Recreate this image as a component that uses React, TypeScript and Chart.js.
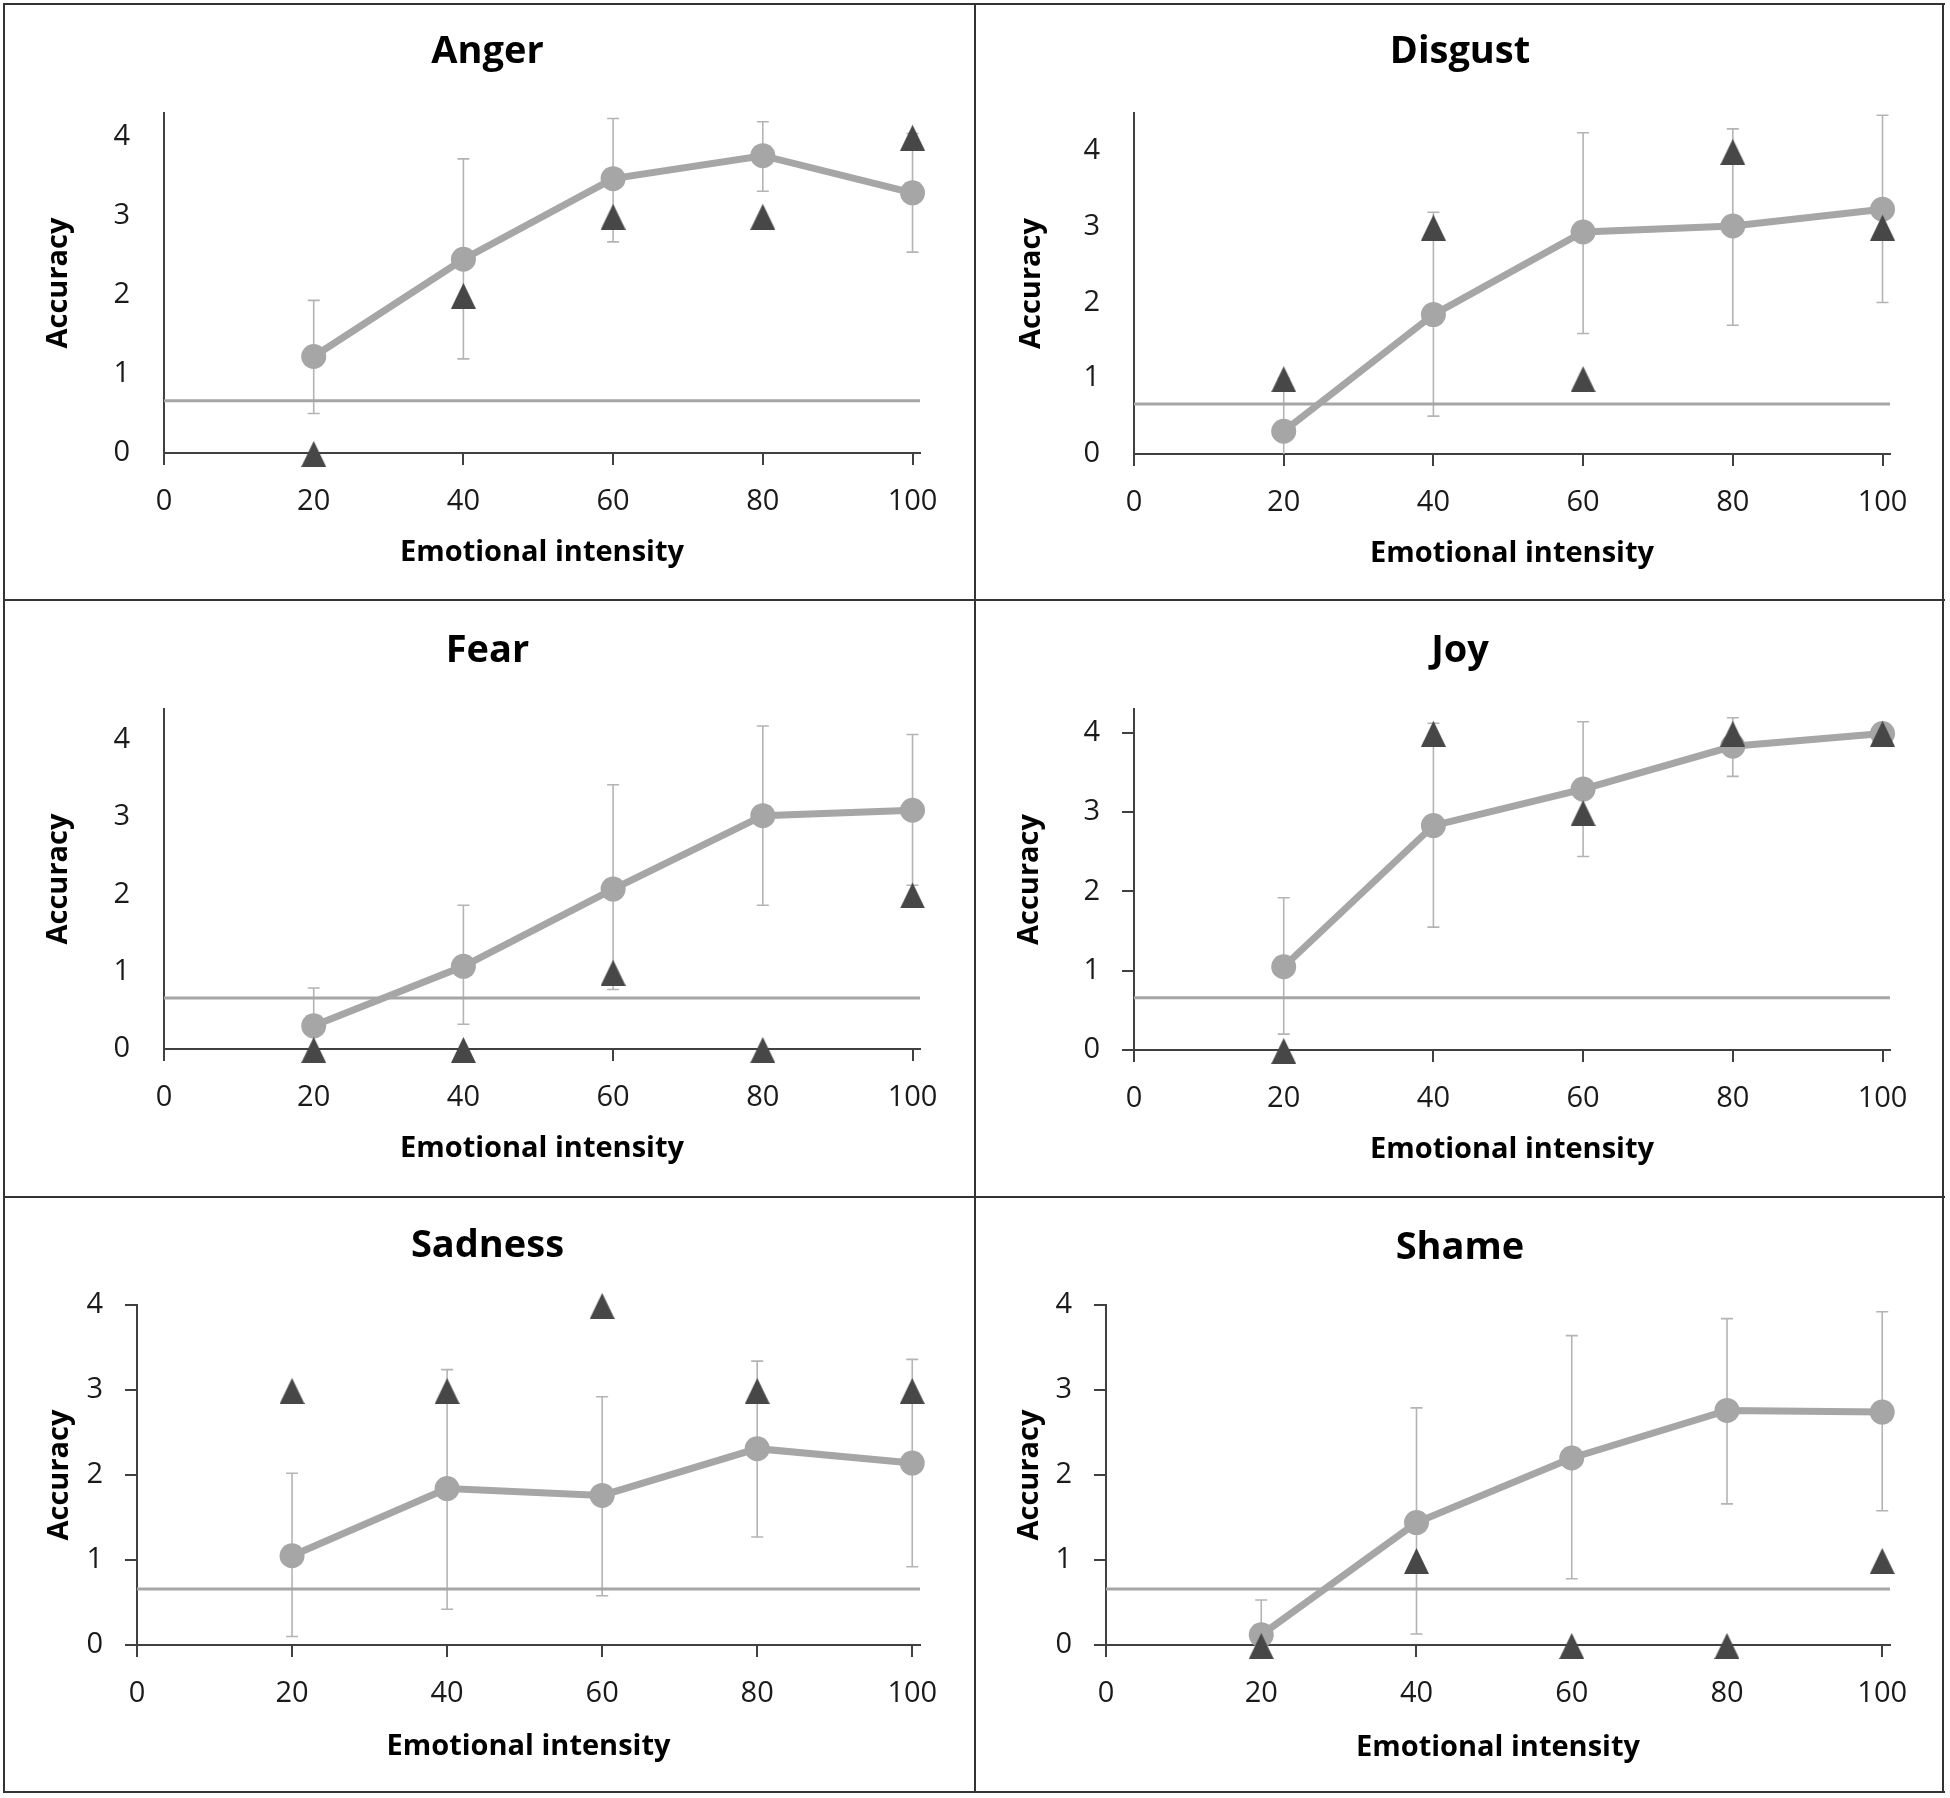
import React, { useEffect, useRef } from "react";
import { Chart, registerables } from "chart.js";

Chart.register(...registerables);

// ---------- data ----------
const intensities = [20, 40, 60, 80, 100];
const xTickValues = [0, 20, 40, 60, 80, 100];
const yTickValues = [0, 1, 2, 3, 4];
const chanceLevel = 0.66;
const xAxisTitle = "Emotional intensity";
const yAxisTitle = "Accuracy";

const angerMean = [1.22, 2.45, 3.47, 3.76, 3.29];
const angerHigh = [1.93, 3.72, 4.23, 4.19, 4.04];
const angerLow = [0.5, 1.19, 2.67, 3.31, 2.54];
const angerTri = [0, 2, 3, 3, 4];

const disgustMean = [0.3, 1.84, 2.93, 3.01, 3.23];
const disgustHigh = [1.0, 3.19, 4.24, 4.29, 4.47];
const disgustLow = [-0.4, 0.5, 1.59, 1.7, 2.0];
const disgustTri = [1, 3, 1, 4, 3];

const fearMean = [0.3, 1.07, 2.07, 3.02, 3.09];
const fearHigh = [0.79, 1.86, 3.42, 4.18, 4.07];
const fearLow = [-0.19, 0.32, 0.77, 1.86, 2.12];
const fearTri = [0, 0, 1, 0, 2];

const joyMean = [1.05, 2.83, 3.29, 3.83, 3.99];
const joyHigh = [1.92, 4.12, 4.14, 4.19, 3.99];
const joyLow = [0.2, 1.55, 2.44, 3.45, 3.99];
const joyTri = [0, 4, 3, 4, 4];

const sadnessMean = [1.05, 1.84, 1.76, 2.31, 2.14];
const sadnessHigh = [2.02, 3.24, 2.92, 3.34, 3.36];
const sadnessLow = [0.1, 0.42, 0.58, 1.27, 0.92];
const sadnessTri = [3, 3, 4, 3, 3];

const shameMean = [0.12, 1.44, 2.2, 2.76, 2.74];
const shameHigh = [0.53, 2.79, 3.64, 3.84, 3.92];
const shameLow = [-0.3, 0.13, 0.78, 1.66, 1.58];
const shameTri = [0, 1, 0, 0, 1];

const panelTitles = ["Anger", "Disgust", "Fear", "Joy", "Sadness", "Shame"];
const panelMeans = [angerMean, disgustMean, fearMean, joyMean, sadnessMean, shameMean];
const panelHighs = [angerHigh, disgustHigh, fearHigh, joyHigh, sadnessHigh, shameHigh];
const panelLows = [angerLow, disgustLow, fearLow, joyLow, sadnessLow, shameLow];
const panelTris = [angerTri, disgustTri, fearTri, joyTri, sadnessTri, shameTri];
const panelYMax = [4.3, 4.5, 4.4, 4.3, 4, 4];

// ---------- layout (positions / styles) ----------
type Lay = {
  x: number; y: number; w: number; h: number;
  left: number; right: number; top: number; bottom: number;
  titleY: number; xTitleY: number; yTitleX: number; yTickMarks: boolean;
};
const layouts: Lay[] = [
  { x: 0, y: 0, w: 975, h: 600, left: 164, right: 920, top: 113, bottom: 453, titleY: 52, xTitleY: 553, yTitleX: 59, yTickMarks: false },
  { x: 975, y: 0, w: 970, h: 600, left: 159, right: 915, top: 113, bottom: 454, titleY: 52, xTitleY: 554, yTitleX: 57, yTickMarks: false },
  { x: 0, y: 600, w: 975, h: 597, left: 164, right: 920, top: 109, bottom: 449, titleY: 51, xTitleY: 549, yTitleX: 59, yTickMarks: false },
  { x: 975, y: 600, w: 970, h: 597, left: 159, right: 915, top: 109, bottom: 450, titleY: 51, xTitleY: 550, yTitleX: 55, yTickMarks: true },
  { x: 0, y: 1197, w: 975, h: 596, left: 137, right: 920, top: 108, bottom: 448, titleY: 49, xTitleY: 550, yTitleX: 60, yTickMarks: true },
  { x: 975, y: 1197, w: 970, h: 596, left: 131, right: 915, top: 108, bottom: 448, titleY: 51, xTitleY: 551, yTitleX: 55, yTickMarks: true },
];

const FONT = "'Open Sans', 'Noto Sans', sans-serif";
const AXIS_COLOR = "#404040";
const LINE_GRAY = "#a6a6a6";
const ERR_GRAY = "#b4b4b4";
const TRI_COLOR = "#474747";

function makeTriangle(): HTMLCanvasElement {
  const c = document.createElement("canvas");
  c.width = 25;
  c.height = 28;
  const g = c.getContext("2d")!;
  g.fillStyle = TRI_COLOR;
  g.beginPath();
  g.moveTo(12.5, 2);
  g.lineTo(25, 28);
  g.lineTo(0, 28);
  g.closePath();
  g.fill();
  return c;
}

function Panel({ idx }: { idx: number }) {
  const ref = useRef<HTMLCanvasElement>(null);
  const lay = layouts[idx];
  useEffect(() => {
    const canvas = ref.current!;
    const title = panelTitles[idx];
    const mean = panelMeans[idx];
    const high = panelHighs[idx];
    const low = panelLows[idx];
    const tri = panelTris[idx];
    const W = lay.w;
    const H = lay.h;

    const errPlugin = {
      id: "errbars" + idx,
      beforeDatasetsDraw(chart: any) {
        const { ctx, chartArea, scales } = chart;
        const xs = scales.x;
        const ys = scales.y;
        ctx.save();
        ctx.beginPath();
        ctx.rect(chartArea.left, chartArea.top, chartArea.right - chartArea.left, chartArea.bottom - chartArea.top);
        ctx.clip();
        ctx.strokeStyle = ERR_GRAY;
        ctx.lineWidth = 1.6;
        intensities.forEach((v, i) => {
          const px = xs.getPixelForValue(v);
          const yl = ys.getPixelForValue(low[i]);
          const yh = ys.getPixelForValue(high[i]);
          ctx.beginPath();
          ctx.moveTo(px, yl);
          ctx.lineTo(px, yh);
          ctx.moveTo(px - 6, yh);
          ctx.lineTo(px + 6, yh);
          ctx.moveTo(px - 6, yl);
          ctx.lineTo(px + 6, yl);
          ctx.stroke();
        });
        ctx.restore();
      },
    };

    const titlePlugin = {
      id: "paneltitle" + idx,
      afterDraw(chart: any) {
        const ctx = chart.ctx;
        ctx.save();
        ctx.fillStyle = "#000";
        ctx.font = `bold 38px ${FONT}`;
        ctx.textAlign = "center";
        ctx.textBaseline = "middle";
        ctx.fillText(title, W / 2, lay.titleY);
        ctx.restore();
      },
    };

    const chart = new Chart(canvas, {
      type: "scatter",
      data: {
        datasets: [
          {
            data: intensities.map((v, i) => ({ x: v, y: tri[i] })),
            pointStyle: makeTriangle() as any,
            pointRadius: 12,
            showLine: false,
            order: 0,
            clip: false as any,
          },
          {
            data: intensities.map((v, i) => ({ x: v, y: mean[i] })),
            showLine: true,
            borderColor: LINE_GRAY,
            borderWidth: 7,
            pointRadius: 12.5,
            pointStyle: "circle",
            pointBackgroundColor: LINE_GRAY,
            pointBorderColor: LINE_GRAY,
            pointBorderWidth: 0,
            order: 1,
            clip: false as any,
          },
          {
            data: [
              { x: 0, y: chanceLevel },
              { x: 101, y: chanceLevel },
            ],
            showLine: true,
            borderColor: LINE_GRAY,
            borderWidth: 3,
            pointRadius: 0,
            order: 2,
          },
        ],
      },
      options: {
        animation: false,
        responsive: false,
        devicePixelRatio: 1,
        events: [],
        layout: { padding: { left: 0, right: W - lay.right, top: lay.top, bottom: 0 } },
        plugins: {
          legend: { display: false },
          tooltip: { enabled: false },
          title: { display: false },
        },
        scales: {
          x: {
            type: "linear",
            position: "bottom",
            min: 0,
            max: 101,
            afterBuildTicks: (s: any) => {
              s.ticks = xTickValues.map((v) => ({ value: v }));
            },
            afterFit: (s: any) => {
              s.height = H - lay.bottom;
            },
            grid: { drawOnChartArea: false, drawTicks: true, tickLength: 12, color: AXIS_COLOR, lineWidth: 2 },
            border: { display: true, color: AXIS_COLOR, width: 2 },
            ticks: { font: { family: FONT, size: 29 }, color: "#1a1a1a", padding: 19, maxRotation: 0, autoSkip: false },
            title: {
              display: true,
              text: xAxisTitle,
              color: "#000",
              font: { family: FONT, size: 29, weight: "bold", lineHeight: 1.2 },
              padding: { top: 0, bottom: H - lay.xTitleY - 17.4 },
            },
          },
          y: {
            type: "linear",
            position: "left",
            min: 0,
            max: panelYMax[idx],
            afterBuildTicks: (s: any) => {
              s.ticks = yTickValues.map((v) => ({ value: v }));
            },
            afterFit: (s: any) => {
              s.width = lay.left;
            },
            grid: {
              drawOnChartArea: false,
              drawTicks: true,
              tickLength: 12,
              color: lay.yTickMarks ? AXIS_COLOR : "rgba(0,0,0,0)",
              lineWidth: 2,
            },
            border: { display: true, color: AXIS_COLOR, width: 2 },
            ticks: { font: { family: FONT, size: 29 }, color: "#1a1a1a", padding: 22 },
            title: {
              display: true,
              text: yAxisTitle,
              color: "#000",
              font: { family: FONT, size: 29, weight: "bold", lineHeight: 1.2 },
              padding: { top: lay.yTitleX - 17.4, bottom: 0 },
            },
          },
        },
      } as any,
      plugins: [errPlugin, titlePlugin],
    });
    return () => chart.destroy();
  }, [idx]);

  return (
    <canvas
      ref={ref}
      width={lay.w}
      height={lay.h}
      style={{ position: "absolute", left: lay.x, top: lay.y, width: lay.w, height: lay.h, display: "block" }}
    />
  );
}

const borderLines = [
  { left: 3, top: 3, width: 1942, height: 2 },
  { left: 3, top: 1791, width: 1942, height: 2 },
  { left: 3, top: 3, width: 2, height: 1790 },
  { left: 1942, top: 3, width: 2, height: 1790 },
  { left: 974, top: 3, width: 2, height: 1790 },
  { left: 3, top: 599, width: 1942, height: 2 },
  { left: 3, top: 1196, width: 1942, height: 2 },
];

export default function App() {
  useEffect(() => {
    document.body.style.margin = "0";
    document.body.style.background = "#fff";
  }, []);
  return (
    <div style={{ position: "relative", width: 1950, height: 1798, background: "#fff", overflow: "hidden" }}>
      {layouts.map((_, i) => (
        <Panel key={i} idx={i} />
      ))}
      {borderLines.map((b, i) => (
        <div key={"b" + i} style={{ position: "absolute", background: "#333", ...b }} />
      ))}
    </div>
  );
}
